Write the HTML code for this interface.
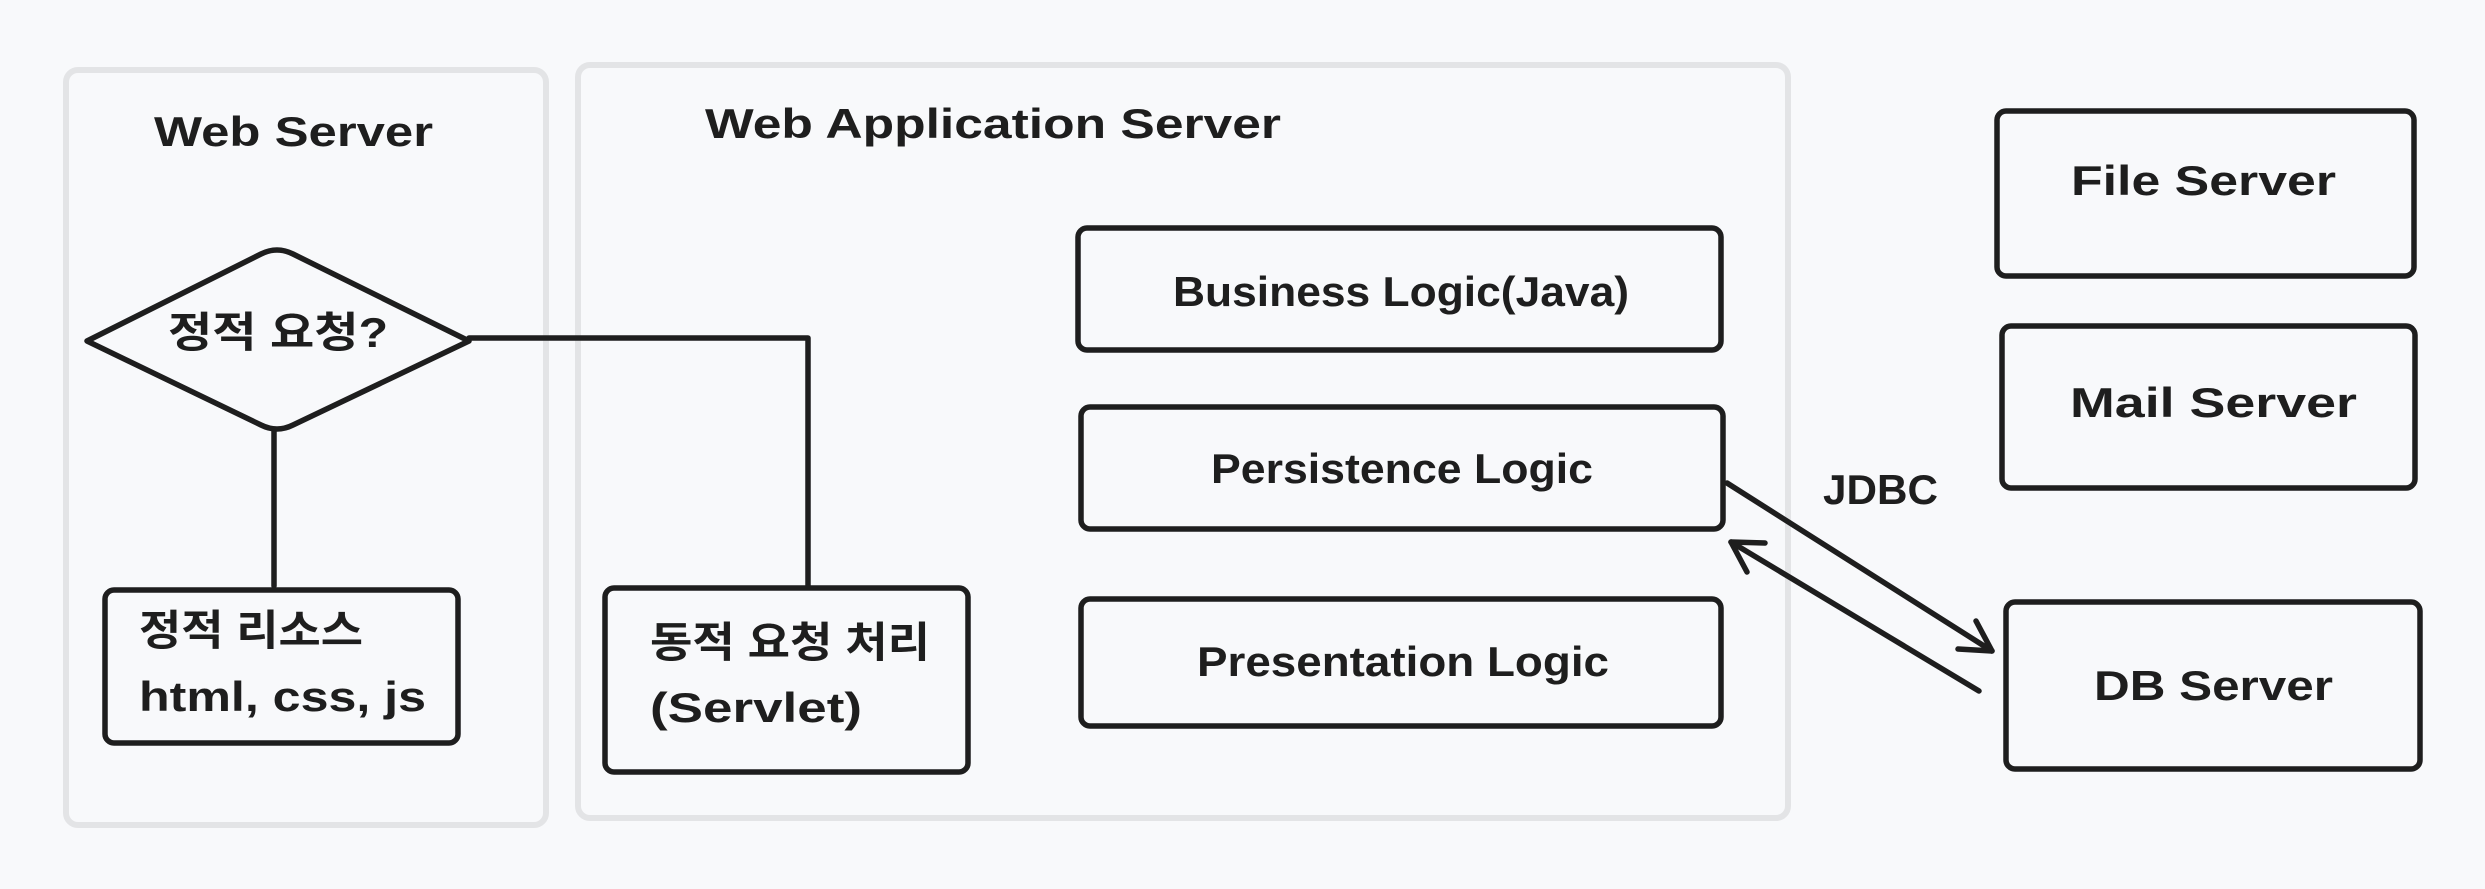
<!DOCTYPE html>
<html><head><meta charset="utf-8"><style>
html,body{margin:0;padding:0;background:#f8f9fb;}
svg{display:block;}
text{font-family:"Liberation Sans","Noto Sans CJK KR",sans-serif;font-weight:bold;fill:#1e1e1e;font-size:42px;}
</style></head><body>
<svg width="2485" height="889" viewBox="0 0 2485 889" xmlns="http://www.w3.org/2000/svg">
<rect x="0" y="0" width="2485" height="889" fill="#f8f9fb"/>
<g fill="none" stroke="#e3e4e6" stroke-width="6">
<rect x="66" y="70" width="480" height="755" rx="12"/>
<rect x="578" y="65" width="1210" height="753" rx="12"/>
</g>
<g fill="none" stroke="#1e1e1e" stroke-width="5.5" stroke-linejoin="round" stroke-linecap="round">
<path d="M87 341 L261 254 Q277 246 293 254 L469 341 L293 425 Q277 433 261 425 Z"/>
<line x1="274" y1="431" x2="274" y2="586"/>
<polyline points="469,338 808,338 808,586"/>
<rect x="105" y="590" width="353" height="153" rx="9"/>
<rect x="605" y="588" width="363" height="184" rx="9"/>
<rect x="1078" y="228" width="643" height="122" rx="9"/>
<rect x="1081" y="407" width="642" height="122" rx="9"/>
<rect x="1081" y="599" width="640" height="127" rx="9"/>
<rect x="1997" y="111" width="417" height="165" rx="9"/>
<rect x="2002" y="326" width="413" height="162" rx="9"/>
<rect x="2006" y="602" width="414" height="167" rx="9"/>
<line x1="1727" y1="483" x2="1992" y2="651"/>
<polyline points="1958,649 1992,651 1976,621"/>
<line x1="1979" y1="691" x2="1731" y2="542"/>
<polyline points="1747,572 1731,542 1765,543"/>
</g>
<text x="154" y="146" textLength="279" lengthAdjust="spacingAndGlyphs">Web Server</text>
<text x="705" y="138" textLength="576" lengthAdjust="spacingAndGlyphs">Web Application Server</text>
<text x="168" y="347" textLength="220" lengthAdjust="spacingAndGlyphs">정적 요청?</text>
<text x="139" y="645" textLength="224" lengthAdjust="spacingAndGlyphs">정적 리소스</text>
<text x="139" y="711" textLength="287" lengthAdjust="spacingAndGlyphs">html, css, js</text>
<text x="650" y="657" textLength="280" lengthAdjust="spacingAndGlyphs">동적 요청 처리</text>
<text x="650" y="722" textLength="212" lengthAdjust="spacingAndGlyphs">(Servlet)</text>
<text x="1173" y="306" textLength="456" lengthAdjust="spacingAndGlyphs">Business Logic(Java)</text>
<text x="1211" y="483" textLength="382" lengthAdjust="spacingAndGlyphs">Persistence Logic</text>
<text x="1197" y="676" textLength="412" lengthAdjust="spacingAndGlyphs">Presentation Logic</text>
<text x="2071" y="195" textLength="265" lengthAdjust="spacingAndGlyphs">File Server</text>
<text x="2070" y="417" textLength="287" lengthAdjust="spacingAndGlyphs">Mail Server</text>
<text x="2094" y="700" textLength="239" lengthAdjust="spacingAndGlyphs">DB Server</text>
<text x="1823" y="504" textLength="115" lengthAdjust="spacingAndGlyphs">JDBC</text>
</svg>
</body></html>
